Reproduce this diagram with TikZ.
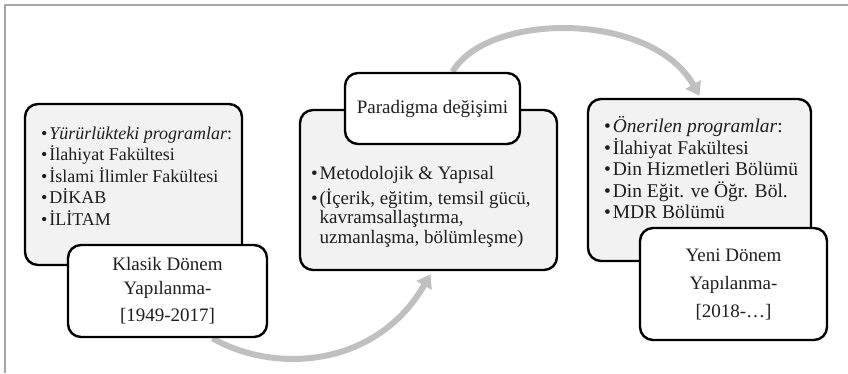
\documentclass[tikz,border=0pt]{standalone}
\usepackage{fontspec}
\setmainfont{Liberation Serif}
\usetikzlibrary{arrows.meta,positioning,backgrounds}
\definecolor{boxfill}{RGB}{242,242,242}
\definecolor{arrowgray}{RGB}{192,192,192}
\definecolor{framegray}{RGB}{165,165,165}
\definecolor{txt}{RGB}{30,30,30}
\newcommand{\blt}{\textbullet}
\begin{document}
\begin{tikzpicture}[x=1pt,y=-1pt, line join=round, line cap=round, >={Triangle[width=17pt,length=13pt]}]
	\tikzset{panel/.style={draw=black, line width=2.4pt, rounded corners=13pt, fill=boxfill, inner sep=0pt}}
	\tikzset{tag/.style={panel, fill=white, text=txt, align=center, font=\fontsize{19}{24}\selectfont}}
	\tikzset{listtext/.style={text=txt, inner sep=0pt, anchor=north west}}
	\tikzset{flow/.style={->, draw=arrowgray, line width=6pt}}
	\useasboundingbox (0,0) rectangle (848,373);
	% frame
	\draw[framegray, line width=1.5pt, line cap=butt] (5,373)--(5,5)--(848,5);
	% boxes
	\node[panel, minimum width=217pt, minimum height=161pt] (g1) at (133.5,184.5) {};
	\node[panel, minimum width=257pt, minimum height=160pt] (g2) at (428.5,190) {};
	\node[panel, minimum width=223pt, minimum height=162pt] (g3) at (699.5,180) {};
	\node[tag, minimum width=199pt, minimum height=92pt] (l1) at (167.5,291)
		{Klasik Dönem\\Yapılanma-\\[3pt][1949-2017]};
	\node[tag, minimum width=175pt, minimum height=71pt] (l2) at (432.5,108.5) {Paradigma değişimi};
	\node[tag, minimum width=187pt, minimum height=112pt, font=\fontsize{19}{28}\selectfont] (l3) at (733.5,284)
		{Yeni Dönem\\Yapılanma-\\{[}2018-…{]}};
	% lists
	\node[listtext, font=\fontsize{18}{21.5}\selectfont] (t1) at ([shift={(17,21)}]g1.north west)
		{\begin{tabular}{@{}l@{\hspace{2pt}}l@{}}
		\blt & \textit{Yürürlükteki programlar}:\\
		\blt & İlahiyat Fakültesi\\
		\blt & İslami İlimler Fakültesi\\
		\blt & DİKAB\\
		\blt & İLİTAM
		\end{tabular}};
	\node[listtext, font=\fontsize{19}{19.5}\selectfont] (t2) at ([shift={(12,57)}]g2.north west)
		{\begin{tabular}{@{}l@{\hspace{2pt}}l@{}}
		\blt & Metodolojik \& Yapısal\\[3pt]
		\blt & (İçerik, eğitim, temsil gücü,\\
		& kavramsallaştırma,\\
		& uzmanlaşma, bölümleşme)
		\end{tabular}};
	\node[listtext, font=\fontsize{19.5}{21}\selectfont] (t3) at ([shift={(17,18)}]g3.north west)
		{\begin{tabular}{@{}l@{\hspace{2pt}}l@{}}
		\blt & \textit{Önerilen programlar}:\\
		\blt & İlahiyat Fakültesi\\
		\blt & Din Hizmetleri Bölümü\\
		\blt & Din Eğit. ve Öğr. Böl.\\
		\blt & MDR Bölümü
		\end{tabular}};
	% arrows behind the boxes
	\begin{scope}[on background layer]
		\coordinate (s1) at ([xshift=45pt]l1.south);
		\coordinate (a1) at ([shift={(2,3)}]g2.south);
		\coordinate (s2) at ([xshift=20pt]l2.north);
		\coordinate (a2) at ([shift={(0,-2)}]g3.north);
		\draw[flow] (s1) .. controls +(60,35) and +(-55,95) .. (a1);
		\draw[flow] (s2) .. controls +(35,-60) and +(-48,-85) .. (a2);
	\end{scope}
\end{tikzpicture}
\end{document}
